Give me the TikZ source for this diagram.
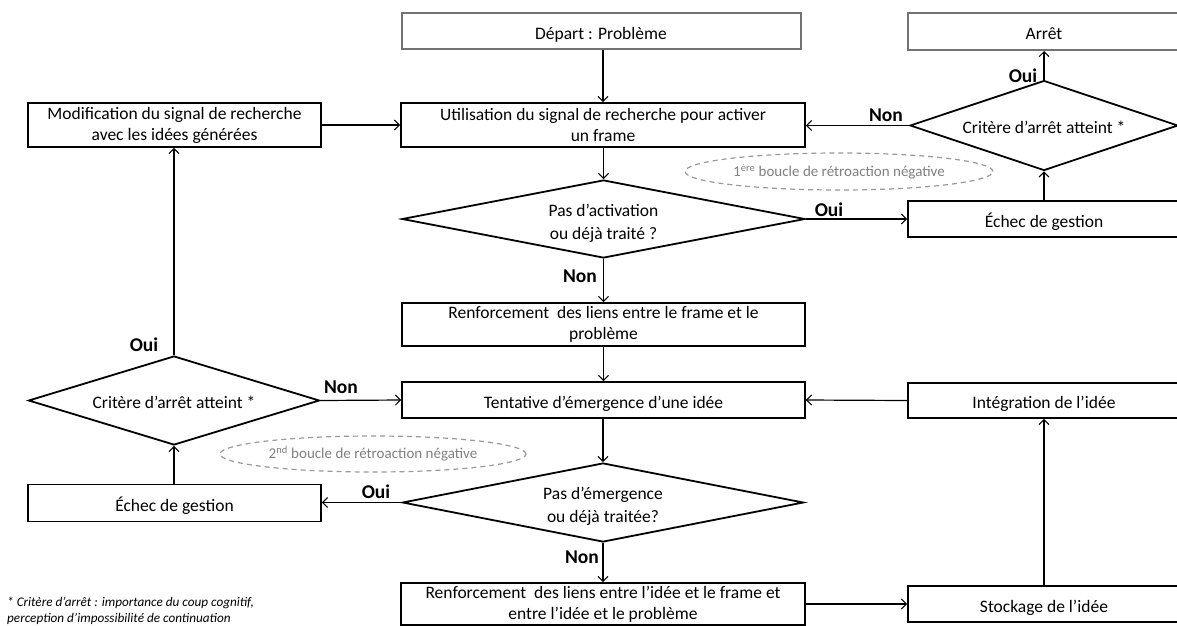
\documentclass[tikz,border=0pt]{standalone}
\usepackage{fontspec}
\setmainfont{Carlito}
\usetikzlibrary{shapes.geometric,arrows.meta}
\begin{document}
\begin{tikzpicture}[x=1pt,y=-1pt,
  box/.style={draw=black, line width=1.8pt, rectangle, inner sep=0pt, align=center,
    font=\fontsize{17.5}{21}\selectfont, execute at begin node={\rule{0pt}{19.5pt}}},
  topbox/.style={box, draw=black!55, line width=2pt},
  dia/.style={draw=black, line width=1.8pt, diamond, inner sep=0pt, align=center,
    font=\fontsize{17.5}{23}\selectfont, execute at begin node={\rule{0pt}{16pt}}},
  loop/.style={draw=black!40, dashed, dash pattern=on 5pt off 4pt, line width=1.2pt,
    ellipse, inner sep=0pt, text=black!50, font=\fontsize{15}{18}\selectfont},
  lab/.style={font=\fontsize{19.5}{21}\selectfont\bfseries, inner sep=0pt},
  arr/.style={draw=black, line width=1.2pt, -{Straight Barb[length=5pt,width=10pt,line width=1pt]}},
  note/.style={font=\fontsize{13.2}{16}\selectfont\itshape, align=left, inner sep=0pt}
]
\useasboundingbox (0,0) rectangle (1177,625);
\clip (0,0) rectangle (1177,625);
\fill[white] (0,0) rectangle (1177,625);

% centre column
\node[topbox, minimum width=399pt, minimum height=36pt] (depart) at (601,31) {Départ : Problème};
\node[box, minimum width=404pt, minimum height=44pt] (util) at (603,125)
  {Utilisation du signal de recherche pour activer\\un frame};
\node[dia, minimum width=403pt, minimum height=78pt, shape aspect=5.1] (d1) at (603.5,219)
  {\rule{0pt}{20pt}Pas d’activation\\ou déjà traité ?};
\node[box, minimum width=403pt, minimum height=43pt] (renf1) at (603.5,324.5)
  {Renforcement\ \ des liens entre le frame et le\\problème};
\node[box, minimum width=403pt, minimum height=36pt] (tent) at (603.5,400)
  {Tentative d’émergence d’une idée};
\node[dia, minimum width=401pt, minimum height=79pt, shape aspect=5.1] (d2) at (603,502.5)
  {\rule{0pt}{20pt}Pas d’émergence\\ou déjà traitée?};
\node[box, minimum width=404pt, minimum height=42pt] (renf2) at (603,604)
  {Renforcement\ \ des liens entre l’idée et le frame et\\entre l’idée et le problème};

% left column
\node[box, minimum width=293pt, minimum height=44pt] (modif) at (174.5,125)
  {Modification du signal de recherche\\avec les idées générées};
\node[dia, minimum width=291pt, minimum height=89pt, shape aspect=3.2] (dleft) at (174,400.5)
  {Critère d’arrêt atteint *};
\node[box, minimum width=293pt, minimum height=37pt] (echec2) at (174.5,503)
  {Échec de gestion};

% right column
\node[topbox, minimum width=272pt, minimum height=37pt] (arret) at (1044,31.5) {Arrêt\vphantom{p}};
\node[dia, minimum width=268pt, minimum height=90pt, shape aspect=3] (dtr) at (1044,125.5)
  {Critère d’arrêt atteint *};
\node[box, minimum width=272pt, minimum height=36pt] (echec1) at (1044,219)
  {Échec de gestion};
\node[box, minimum width=272pt, minimum height=35pt] (integ) at (1044,400.5)
  {Intégration de l’idée};
\node[box, minimum width=272pt, minimum height=36pt] (stock) at (1044,604)
  {Stockage de l’idée};

% feedback loops
\node[loop, minimum width=308pt, minimum height=37pt] (ell1) at (839,171.5)
  {1\textsuperscript{ère} boucle de rétroaction négative};
\node[loop, minimum width=306pt, minimum height=36pt] (ell2) at (373,454)
  {2\textsuperscript{nd} boucle de rétroaction négative};

% connectors
\draw[arr] (util.north |- depart.south) -- (util.north);
\draw[arr] (modif.east) -- (util.west);
\draw[arr] (dtr.west) -- (dtr.west -| util.east);
\draw[arr] (dtr.north) -- (arret.south);
\draw[arr] (echec1.north) -- (dtr.south);
\draw[arr] (util.south -| d1.north) -- (d1.north);
\draw[arr] (d1.east) -- (d1.east -| echec1.west);
\draw[arr] (d1.south) -- (renf1.north);
\draw[arr] (renf1.south) -- (tent.north);
\draw[arr] (dleft.east) -- (tent.west);
\draw[arr] (dleft.north) -- (dleft.north |- modif.south);
\draw[arr] (echec2.north -| dleft.south) -- (dleft.south);
\draw[arr] (tent.south -| d2.north) -- (d2.north);
\draw[arr] (d2.west) -- (d2.west -| echec2.east);
\draw[arr] (d2.south) -- (d2.south |- renf2.north);
\draw[arr] (renf2.east) -- (stock.west);
\draw[arr] (stock.north) -- (integ.south);
\draw[arr] (integ.west) -- (tent.east);

% labels
\node[lab] (l1) at (886,115) {Non};
\node[lab] (l2) at (1023,76) {Oui};
\node[lab] (l3) at (829,210) {Oui};
\node[lab] (l4) at (580,276) {Non};
\node[lab] (l5) at (144,345) {Oui};
\node[lab] (l6) at (341,387) {Non};
\node[lab] (l7) at (376,492) {Oui};
\node[lab] (l8) at (582,557) {Non};

% footnote
\node[note, anchor=west] (fn) at (7,611)
  {* Critère d’arrêt : importance du coup cognitif,\\perception d’impossibilité de continuation};
\end{tikzpicture}
\end{document}
